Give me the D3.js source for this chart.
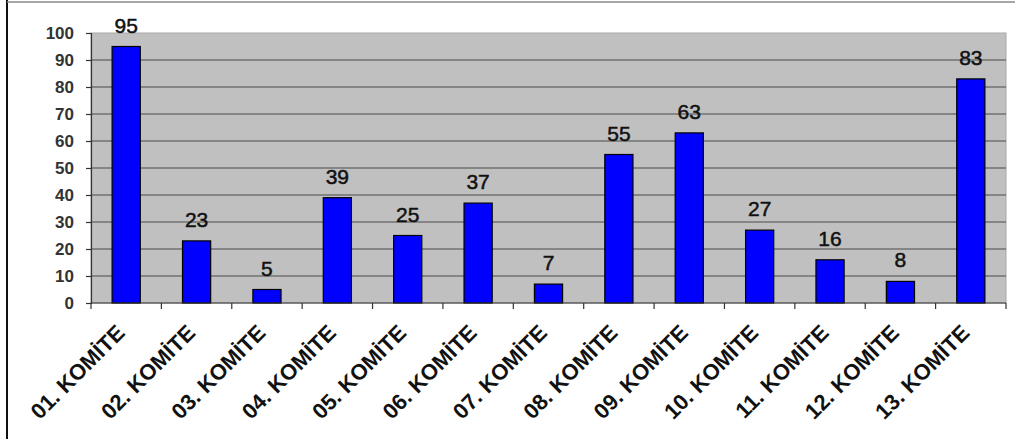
<!DOCTYPE html>
<html>
<head>
<meta charset="utf-8">
<script src="https://cdn.jsdelivr.net/npm/d3@7"></script>
<style>
  body { margin: 0; background: #fff; }
  svg { display: block; font-family: "Liberation Sans", Arial, sans-serif; }
</style>
</head>
<body>
<svg id="chart" width="1015" height="439"></svg>
<script>
const categories = [
  "01. KOMİTE", "02. KOMİTE", "03. KOMİTE", "04. KOMİTE", "05. KOMİTE",
  "06. KOMİTE", "07. KOMİTE", "08. KOMİTE", "09. KOMİTE", "10. KOMİTE",
  "11. KOMİTE", "12. KOMİTE", "13. KOMİTE",
];
const values = [95, 23, 5, 39, 25, 37, 7, 55, 63, 27, 16, 8, 83];
const yTicks = [0, 10, 20, 30, 40, 50, 60, 70, 80, 90, 100];

const W = 1015;
const H = 439;
const MARGINS = { top: 33, right: 9, bottom: 136, left: 91 };

const svg = d3.select("#chart");

// outer frame of the picture
svg.append("line")
  .attr("x1", 7).attr("x2", 7).attr("y1", 0).attr("y2", H)
  .attr("stroke", "#111").attr("stroke-width", 2);
svg.append("line")
  .attr("x1", 7).attr("x2", W).attr("y1", 2).attr("y2", 2)
  .attr("stroke", "#888").attr("stroke-width", 1.5);

const x = d3.scaleBand()
  .domain(categories)
  .range([MARGINS.left, W - MARGINS.right])
  .paddingInner(0.6)
  .paddingOuter(0.3);

const y = d3.scaleLinear()
  .domain([0, 100])
  .range([H - MARGINS.bottom, MARGINS.top]);

// plot background
svg.append("rect")
  .attr("x", MARGINS.left)
  .attr("y", MARGINS.top)
  .attr("width", W - MARGINS.right - MARGINS.left)
  .attr("height", y(0) - MARGINS.top)
  .attr("fill", "#c0c0c0")
  .attr("stroke", "#a8a8a8");

// gridlines
svg.append("g")
  .selectAll("line")
  .data(yTicks.filter((d) => d > 0 && d < 100))
  .join("line")
  .attr("x1", MARGINS.left)
  .attr("x2", W - MARGINS.right)
  .attr("y1", (d) => y(d))
  .attr("y2", (d) => y(d))
  .attr("stroke", "#4a4a4a")
  .attr("stroke-width", 1.2);

// bars
svg.append("g")
  .selectAll("rect")
  .data(values)
  .join("rect")
  .attr("x", (d, i) => x(categories[i]))
  .attr("y", (d) => y(d))
  .attr("width", x.bandwidth())
  .attr("height", (d) => y(0) - y(d))
  .attr("fill", "#0000ff")
  .attr("stroke", "#000")
  .attr("stroke-width", 1.2);

// value labels
svg.append("g")
  .selectAll("text")
  .data(values)
  .join("text")
  .attr("x", (d, i) => x(categories[i]) + x.bandwidth() / 2)
  .attr("y", (d) => y(d) - 14)
  .attr("text-anchor", "middle")
  .attr("font-size", 21)
  .attr("fill", "#111")
  .attr("stroke", "#111")
  .attr("stroke-width", 0.5)
  .text((d) => d);

// y axis
const yAxis = svg.append("g")
  .attr("transform", `translate(${MARGINS.left},0)`)
  .call(d3.axisLeft(y).tickValues(yTicks).tickSize(5).tickPadding(12));
yAxis.select(".domain").attr("stroke", "#333").attr("stroke-width", 1.2);
yAxis.selectAll(".tick line").attr("stroke", "#333").attr("stroke-width", 1.2);
yAxis.selectAll("text")
  .attr("font-size", 17)
  .attr("font-weight", "bold")
  .attr("fill", "#333")
  .attr("font-family", "'Liberation Sans', Arial, sans-serif");

// x axis: ticks sit at the band boundaries
const bounds = d3.range(categories.length + 1).map(
  (i) => MARGINS.left + i * ((W - MARGINS.right - MARGINS.left) / categories.length)
);
svg.append("line")
  .attr("x1", MARGINS.left).attr("x2", W - MARGINS.right)
  .attr("y1", y(0)).attr("y2", y(0))
  .attr("stroke", "#333").attr("stroke-width", 1.2);
svg.append("g")
  .selectAll("line")
  .data(bounds)
  .join("line")
  .attr("x1", (d) => d).attr("x2", (d) => d)
  .attr("y1", y(0)).attr("y2", y(0) + 6)
  .attr("stroke", "#333").attr("stroke-width", 1.2);

svg.append("g")
  .selectAll("text")
  .data(categories)
  .join("text")
  .attr("transform", (d) =>
    `translate(${x(d) + x.bandwidth() / 2},${y(0) + 31}) rotate(-45)`)
  .attr("text-anchor", "end")
  .attr("font-size", 22)
  .attr("font-weight", "bold")
  .attr("fill", "#111")
  .text((d) => d);
</script>
</body>
</html>
